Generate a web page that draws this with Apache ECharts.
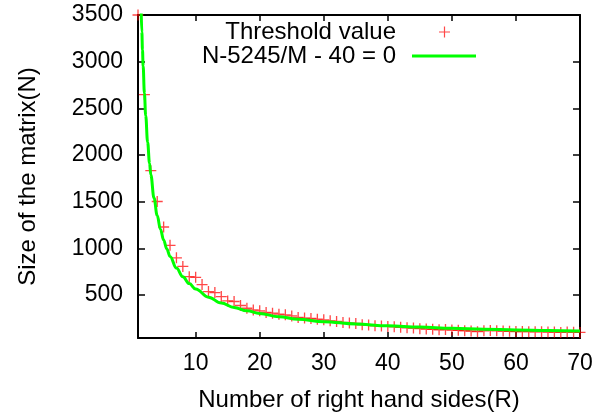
<!DOCTYPE html>
<html><head><meta charset="utf-8">
<script src="https://cdn.jsdelivr.net/npm/echarts@6/dist/echarts.min.js"></script>
<style>html,body{margin:0;padding:0;background:#fff}#c{width:607px;height:417px}</style>
</head><body><div id="c"></div>
<script>
// Threshold value points (R, N)
const rValues = [1,2,3,4,5,6,7,8,9,10,11,12,13,14,15,16,17,18,19,20,21,22,23,24,25,26,27,28,29,30,31,32,33,34,35,36,37,38,39,40,41,42,43,44,45,46,47,48,49,50,51,52,53,54,55,56,57,58,59,60,61,62,63,64,65,66,67,68,69,70];
const thresholdN = [3500,2648,1832,1502,1229,1033,899,807,697,690,612,537,527,484,437,431,388,359,341,331,314,306,295,288,277,260,253,250,242,235,224,218,207,200,195,182,178,171,168,164,160,154,150,146,140,136,133,128,131,125,122,118,115,108,118,121,117,114,112,110,110,108,106,108,104,103,100,105,101,100];
// Fitted curve N - 5245/M - 40 = 0, read at sample points
const curveR = [1.5,1.6,1.7,1.8,2,2.2,2.5,2.8,3,3.5,4,4.5,5,5.5,6,7,8,9,10,12,14,16,18,20,23,26,30,35,40,45,50,55,60,65,70];
const curveN = [3537,3318,3125,2954,2663,2424,2138,1913,1788,1539,1351,1206,1089,994,914,789,696,623,565,477,415,368,331,302,268,242,215,190,171,157,145,135,127,121,115];
const xTicks = [10,20,30,40,50,60,70];
const yTicks = [500,1000,1500,2000,2500,3000,3500];
const seriesNames = ['Threshold value','N-5245/M - 40 = 0'];
const xTitle = 'Number of right hand sides(R)';
const yTitle = 'Size of the matrix(N)';

const FONT = "'Liberation Sans', Arial, Helvetica, sans-serif";
const FS = 24;
const TFS = 23;
const black = '#000';
const plusPath = 'path://M0,4.4H10V5.6H0Z M4.4,0H5.6V10H4.4Z';
const plusLegendIcon = 'path://M0,5.5L0,5.5Z M75,5.5L75,5.5Z M38,4.9H49V6.1H38Z M42.9,0H44.1V11H42.9Z';
const lineLegendIcon = 'path://M0,4.5L0,4.5Z M11,3H75V6H11Z';

const chart = echarts.init(document.getElementById('c'), null, {renderer:'canvas'});
const axisLine = {onZero:false, lineStyle:{color:black, width:2}};
const tickStyle = {color:black, width:1.5};
const plain = v => String(v);
chart.setOption({
  animation:false,
  backgroundColor:'#fff',
  textStyle:{fontFamily:FONT},
  grid:{left:138, right:27, top:15, bottom:77, containLabel:false},
  legend:[
    {data:[{name:seriesNames[0], icon:plusLegendIcon}], right:126, top:15, align:'right',
     itemWidth:75, itemHeight:11,
     textStyle:{fontSize:FS, fontFamily:FONT, color:black}},
    {data:[{name:seriesNames[1], icon:lineLegendIcon}], right:126, top:39, align:'right',
     itemWidth:75, itemHeight:3,
     textStyle:{fontSize:FS, fontFamily:FONT, color:black}}
  ],
  xAxis:[
    {type:'value', min:1, max:70, position:'bottom', axisLine,
     axisTick:{inside:true, length:6, customValues:xTicks, lineStyle:tickStyle},
     axisLabel:{customValues:xTicks, formatter:plain, color:black, fontSize:TFS, fontFamily:FONT, margin:14},
     splitLine:{show:false},
     name:xTitle, nameLocation:'middle', nameGap:50,
     nameTextStyle:{fontSize:FS, fontFamily:FONT, color:black}},
    {type:'value', min:1, max:70, position:'top', axisLine,
     axisTick:{inside:true, length:6, customValues:xTicks, lineStyle:tickStyle},
     axisLabel:{show:false}, splitLine:{show:false}}
  ],
  yAxis:[
    {type:'value', min:40, max:3500, position:'left', axisLine,
     axisTick:{inside:true, length:7, customValues:yTicks, lineStyle:tickStyle},
     axisLabel:{customValues:yTicks, formatter:plain, color:black, fontSize:TFS, fontFamily:FONT, margin:15},
     splitLine:{show:false},
     name:yTitle, nameLocation:'middle', nameGap:98, nameRotate:90,
     nameTextStyle:{fontSize:FS, fontFamily:FONT, color:black}},
    {type:'value', min:40, max:3500, position:'right', axisLine,
     axisTick:{inside:true, length:7, customValues:yTicks, lineStyle:tickStyle},
     axisLabel:{show:false}, splitLine:{show:false}}
  ],
  series:[
    {name:seriesNames[0], type:'scatter', xAxisIndex:0, yAxisIndex:0,
     symbol:plusPath, symbolSize:11,
     itemStyle:{color:'rgba(255,0,0,0.9)'},
     data:rValues.map((r,i)=>[r, thresholdN[i]]), z:2},
    {name:seriesNames[1], type:'line', xAxisIndex:0, yAxisIndex:0,
     showSymbol:false, symbol:'none', smooth:0.4, smoothMonotone:'x', clip:true,
     lineStyle:{color:'#00ff00', width:3}, itemStyle:{color:'#00ff00'},
     data:curveR.map((r,i)=>[r, curveN[i]]), z:3}
  ]
});
</script></body></html>
